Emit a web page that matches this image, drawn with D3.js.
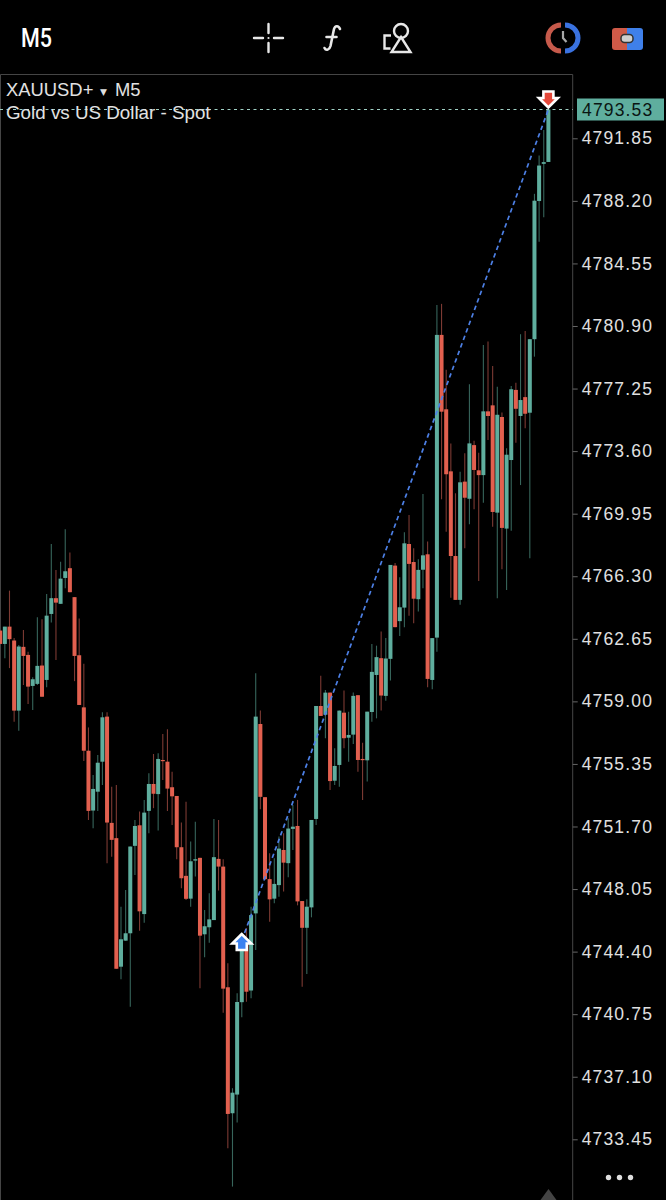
<!DOCTYPE html>
<html>
<head>
<meta charset="utf-8">
<script src="https://cdn.jsdelivr.net/npm/d3@7"></script>
<style>
html,body{margin:0;padding:0;background:#000;}
svg{display:block;}
</style>
</head>
<body>
<svg id="c" width="666" height="1200"></svg>
<script>
const symbol = "XAUUSD+";
const timeframe = "M5";
const description = "Gold vs US Dollar - Spot";
const tickLabels = ["4791.85","4788.20","4784.55","4780.90","4777.25","4773.60","4769.95","4766.30","4762.65","4759.00","4755.35","4751.70","4748.05","4744.40","4740.75","4737.10","4733.45"];
const lastPrice = 4793.53;
const buyIndex = 52, buyPrice = 4745.05;
const sellIndex = 118, sellPrice = 4793.53;

const opens = [
4763.13,4762.35,4763.36,4762.55,4758.46,4762.18,4761.71,4759.90,4760.02,4761.09,
4760.25,4764.10,4765.02,4764.69,4766.20,4766.77,4765.08,4761.69,4758.65,4756.12,
4752.63,4753.73,4755.48,4758.11,4751.91,4751.02,4743.52,4745.04,4745.47,4750.57,
4751.77,4746.59,4752.61,4754.18,4753.59,4755.58,4755.48,4753.99,4753.48,4750.49,
4748.82,4747.49,4749.71,4749.87,4745.41,4745.82,4746.24,4749.81,4749.36,4742.32,
4734.97,4736.06,4741.45,4745.08,4742.13,4746.63,4757.68,4753.41,4748.63,4747.49,
4748.28,4750.33,4749.56,4751.56,4751.73,4747.35,4745.79,4746.98,4752.14,4758.73,
4758.22,4759.51,4754.37,4755.29,4758.34,4756.88,4757.06,4759.36,4755.64,4755.56,
4758.38,4760.54,4761.52,4759.32,4761.48,4766.92,4763.68,4764.47,4768.18,4767.13,
4764.96,4766.68,4767.58,4760.25,4762.72,4780.38,4776.04,4772.42,4767.48,4764.92,
4771.82,4770.82,4773.95,4772.48,4772.20,4775.92,4776.27,4770.01,4775.59,4769.08,
4773.08,4777.17,4775.65,4776.75,4775.84,4780.13,4788.19,4790.36,4790.47];
const closes = [
4762.35,4763.36,4762.63,4758.46,4762.20,4761.65,4759.86,4760.29,4761.07,4759.27,
4764.00,4765.02,4764.76,4766.16,4766.59,4765.37,4761.65,4758.79,4756.12,4752.61,
4753.89,4755.42,4758.07,4751.93,4750.92,4743.40,4745.12,4745.47,4750.53,4751.73,
4746.75,4752.51,4754.18,4753.61,4755.64,4755.52,4753.91,4753.46,4750.49,4748.68,
4747.48,4749.67,4749.79,4745.33,4745.88,4746.28,4749.91,4749.36,4742.24,4734.93,
4736.17,4741.46,4744.78,4742.06,4746.53,4758.11,4753.43,4748.63,4747.45,4748.35,
4750.41,4749.59,4751.58,4751.69,4747.33,4745.79,4747.02,4752.08,4758.73,4758.15,
4759.51,4754.35,4755.23,4758.46,4756.85,4757.04,4759.32,4755.58,4755.58,4758.40,
4760.72,4761.58,4759.34,4761.50,4766.96,4763.33,4764.49,4768.22,4767.02,4764.99,
4766.67,4767.52,4760.31,4762.69,4780.38,4775.90,4772.25,4767.48,4764.92,4771.78,
4770.88,4774.05,4772.50,4772.20,4775.92,4775.65,4770.05,4775.72,4769.12,4773.39,
4777.21,4776.07,4776.58,4775.78,4780.13,4788.21,4790.26,4790.46,4793.53];
const highs = [
4763.13,4763.36,4765.46,4762.70,4762.29,4763.17,4761.90,4760.41,4763.91,4763.79,
4765.27,4768.18,4766.67,4767.15,4769.04,4767.68,4765.08,4763.83,4761.19,4757.48,
4754.70,4755.87,4758.36,4758.36,4754.02,4754.12,4747.02,4748.00,4750.53,4752.08,
4752.57,4753.25,4754.80,4755.93,4755.97,4757.10,4757.37,4754.90,4753.48,4751.93,
4753.15,4750.82,4751.98,4749.87,4746.83,4747.81,4752.14,4752.08,4749.79,4743.72,
4736.43,4741.97,4745.37,4745.78,4747.02,4760.64,4758.46,4753.41,4750.14,4749.85,
4751.11,4751.31,4752.18,4752.96,4753.25,4747.35,4747.45,4752.08,4758.73,4760.49,
4759.67,4759.51,4756.26,4758.46,4759.63,4758.40,4759.51,4759.36,4756.59,4758.40,
4762.35,4762.25,4763.07,4762.69,4766.96,4767.07,4766.24,4768.87,4769.87,4767.93,
4767.29,4771.10,4768.32,4762.69,4782.13,4782.19,4778.34,4774.05,4771.14,4772.40,
4773.47,4777.50,4774.21,4773.51,4779.79,4779.99,4778.57,4777.36,4775.86,4773.76,
4777.40,4777.59,4780.42,4780.61,4780.13,4788.61,4790.84,4792.34,4793.53];
const lows = [
4762.35,4761.52,4760.94,4757.81,4757.29,4759.96,4758.85,4758.50,4759.96,4759.27,
4759.83,4763.60,4761.42,4764.69,4765.60,4765.37,4760.18,4758.79,4755.52,4752.08,
4751.60,4752.61,4754.12,4749.56,4749.94,4743.40,4742.79,4745.04,4741.19,4748.87,
4745.62,4746.09,4751.31,4752.77,4751.46,4754.41,4752.61,4751.79,4749.79,4748.10,
4747.41,4747.02,4748.78,4742.26,4744.07,4744.92,4746.24,4747.96,4740.84,4732.93,
4730.69,4734.43,4740.57,4741.48,4741.68,4744.49,4752.71,4748.58,4746.14,4747.22,
4747.60,4747.90,4748.74,4750.33,4747.10,4742.35,4743.09,4746.40,4751.79,4758.15,
4756.85,4753.83,4754.12,4754.02,4756.26,4755.48,4756.51,4754.90,4753.25,4754.32,
4757.81,4758.01,4758.46,4759.04,4760.21,4763.33,4762.82,4763.33,4763.99,4763.56,
4764.24,4765.60,4759.83,4759.71,4761.90,4770.79,4768.90,4765.04,4764.92,4764.63,
4767.93,4769.33,4770.21,4766.02,4770.59,4774.25,4769.19,4765.02,4766.71,4765.50,
4768.96,4774.09,4771.62,4774.93,4767.35,4779.11,4785.82,4787.24,4790.47];

const UP = "#5fae9e", DOWN = "#e2604f", UP_W = "#37655b", DOWN_W = "#7c3a33";

const svg = d3.select("#c");
const y = d3.scaleLinear().domain([4733.45, 4791.85]).range([1139.3, 138.3]);
const x = d3.scaleLinear().domain([0, 118]).range([0.2, 548.4]);
const indices = d3.range(opens.length);
const AXIS_X = 572.7;

// frame
svg.append("path").attr("d", `M0.5 1200V74.5H${AXIS_X}V1200`).attr("fill","none").attr("stroke","#454545").attr("stroke-width",1);

// candles
const plot = svg.append("g");
plot.selectAll("line.w").data(indices).join("line").attr("class","w")
  .attr("x1", i=>x(i)).attr("x2", i=>x(i))
  .attr("y1", i=>y(highs[i])).attr("y2", i=>y(lows[i]))
  .attr("stroke", i=>closes[i]>=opens[i]?UP_W:DOWN_W).attr("stroke-width",1.1);
plot.selectAll("rect.b").data(indices).join("rect").attr("class","b")
  .attr("x", i=>x(i)-2).attr("width",4)
  .attr("y", i=>y(Math.max(opens[i],closes[i])))
  .attr("height", i=>Math.max(1.2, Math.abs(y(opens[i])-y(closes[i]))))
  .attr("fill", i=>closes[i]>=opens[i]?UP:DOWN);

// last price line
svg.append("line").attr("x1",0).attr("x2",AXIS_X).attr("y1",y(lastPrice)).attr("y2",y(lastPrice))
  .attr("stroke","#9fd0c4").attr("stroke-width",1).attr("stroke-dasharray","3 3.5");

// trade line
svg.append("line").attr("x1",x(buyIndex)).attr("y1",y(buyPrice)).attr("x2",x(sellIndex)).attr("y2",y(sellPrice))
  .attr("stroke","#4d80e6").attr("stroke-width",1.7).attr("stroke-dasharray","4.5 3.5");

// trade arrows
function arrow(cx, tip, dir, fill){
  const d=`M${cx} ${tip} l${-9.5} ${9.5*dir} h4.5 v${6.5*dir} h10 v${-6.5*dir} h4.5 z`;
  svg.append("path").attr("d",d).attr("fill",fill).attr("stroke","#fff").attr("stroke-width",2.6).attr("stroke-linejoin","miter");
}
arrow(x(buyIndex), y(buyPrice)-6.5, 1, "#3b82f0");
arrow(x(sellIndex), y(sellPrice)-2, -1, "#e5483a");

// price axis
const axis = d3.axisRight(y).tickValues(tickLabels.map(Number)).tickFormat(d=>d.toFixed(2)).tickSize(5).tickPadding(4);
const ag = svg.append("g").attr("transform",`translate(${AXIS_X},0)`).call(axis);
ag.select(".domain").remove();
ag.selectAll(".tick line").attr("stroke","#666");
ag.selectAll(".tick text").attr("fill","#e0e0e0").attr("font-family","Liberation Sans, Arial, sans-serif").attr("font-size",17.5).attr("letter-spacing","1.15px");

// last price tag
const tagY = y(lastPrice);
svg.append("rect").attr("x",577).attr("y",tagY-11).attr("width",87).attr("height",22).attr("fill","#5fae9e");
svg.append("text").attr("x",582).attr("y",tagY+6.3).text(lastPrice.toFixed(2)).attr("fill","#0a1512")
  .attr("font-family","Liberation Sans, Arial, sans-serif").attr("font-size",17.5).attr("letter-spacing","1.15px");

// legend
const lf = "Liberation Sans, Arial, sans-serif";
svg.append("text").attr("x",6).attr("y",96).attr("fill","#e2e2e2").attr("font-family",lf).attr("font-size",18.4).text(symbol);
svg.append("text").attr("x",100).attr("y",95).attr("fill","#dedede").attr("font-family","DejaVu Sans").attr("font-size",9).text("▼");
svg.append("text").attr("x",115).attr("y",96).attr("fill","#e2e2e2").attr("font-family",lf).attr("font-size",18.4).text(timeframe);
svg.append("text").attr("x",6).attr("y",119).attr("fill","#e2e2e2").attr("font-family",lf).attr("font-size",18.8).text(description);

// header
svg.append("text").attr("x",21).attr("y",47).attr("fill","#fff").attr("font-family","Roboto, Liberation Sans").attr("font-weight",500).attr("font-size",25).attr("textLength",31).attr("lengthAdjust","spacingAndGlyphs").text(timeframe);

const ic = svg.append("g").attr("fill","none").attr("stroke","#e8e8e8").attr("stroke-width",2.4).attr("stroke-linecap","round");
// crosshair
ic.append("path").attr("d","M254 38h9M274 38h9M268.5 24v9M268.5 43v9");
ic.append("circle").attr("cx",268.5).attr("cy",38).attr("r",1.1).attr("fill","#e8e8e8").attr("stroke","none");
// function
ic.append("path").attr("d","M340 29c-1.5-4-5-3.5-6 0l-3.5 17c-1 4-4.5 5-6 2M326.5 37h10").attr("stroke-width",2.6);
// objects
ic.append("circle").attr("cx",401).attr("cy",31).attr("r",7).attr("stroke-width",2.4);
ic.append("path").attr("d","M401 37l9.5 15h-19zM391 35.5h-6.5v13h6").attr("stroke-width",2.4).attr("stroke-linecap","butt");
// history clock
svg.append("path").attr("d","M561 25a13 13 0 0 0 0 26").attr("fill","none").attr("stroke","#c65a4b").attr("stroke-width",5);
svg.append("path").attr("d","M565 25a13 13 0 0 1 0 26").attr("fill","none").attr("stroke","#3a72e0").attr("stroke-width",5);
svg.append("path").attr("d","M563 31v7l3.5 4").attr("fill","none").attr("stroke","#a8a8a8").attr("stroke-width",2.2);
// trade switch
svg.append("path").attr("d","M627 28h-12a3 3 0 0 0-3 3v16a3 3 0 0 0 3 3h12z").attr("fill","#cf5a48");
svg.append("path").attr("d","M627 28h13a3 3 0 0 1 3 3v16a3 3 0 0 1-3 3h-13z").attr("fill","#3f80ea");
svg.append("rect").attr("x",621).attr("y",34.5).attr("width",12).attr("height",8).attr("rx",3.5).attr("fill","#cfcfcf").attr("stroke","#333").attr("stroke-width",1.5);

// more dots
svg.selectAll("circle.dot").data([608.5,619.5,630.5]).join("circle").attr("class","dot").attr("cx",d=>d).attr("cy",1177.5).attr("r",2.7).attr("fill","#dedede");
// scroll marker
svg.append("path").attr("d","M548.5 1189l8 11h-16z").attr("fill","#444");
</script>
</body>
</html>
